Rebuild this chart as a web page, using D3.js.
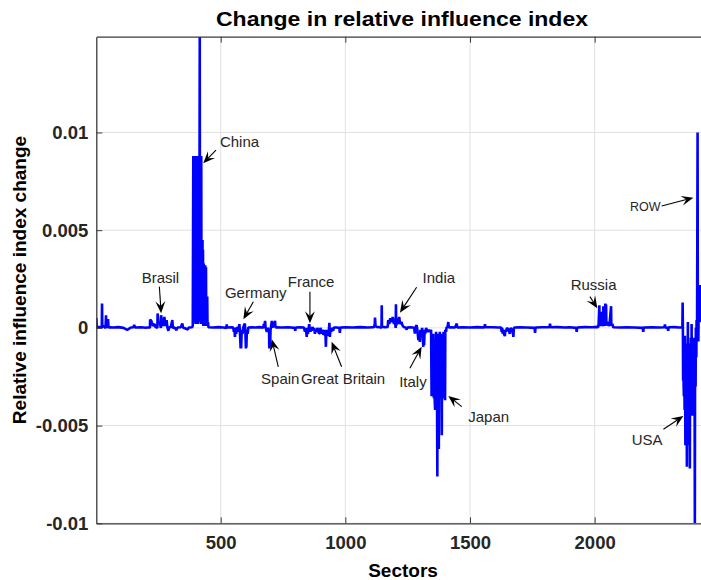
<!DOCTYPE html>
<html>
<head>
<meta charset="utf-8">
<script src="https://cdn.jsdelivr.net/npm/d3@7"></script>
<style>
  body { margin: 0; background: #fff; }
  text { font-family: "Liberation Sans", Arial, Helvetica, sans-serif; }
</style>
</head>
<body>
<div id="grafico"></div>
<script>
const WIDTH = 701;
const HEIGHT = 580;

// sector index (1..2464) and change in relative influence index
const sectorChange = [
  // AUS .. BGR
  [1, 0.0005], [3, 0.00005], [20, 0.00003], [23, 0.0], [24, 0.00125], [25, 0.0001], [30, 0.00008],
  [38, 0.0], [40, 0.00065], [41, 0.0001], [46, 0.0], [48, 0.00045], [50, 0.00002], [56, 0.00003],
  [70, 0.00002], [90, 0.00004], [110, 0.0], [125, -0.0001], [128, -0.00008], [140, 0.00002],
  [150, 0.00003], [153, 0.00015], [156, 0.00002], [180, 0.00003], [200, 0.00001], [212, 0.00003],
  // BRA, CAN, CHE
  [216, 0.0], [217, 0.00043], [222, 0.00035], [228, 0.0001], [235, 0.0002], [238, 0.00005],
  [246, 0.0], [247, 0.00074], [250, 0.00025], [255, 0.0003], [260, 0.0], [261, 0.00065],
  [265, 0.0002], [270, 0.0001], [274, 0.00056], [278, 0.0001], [283, 0.0004], [286, 0.00005],
  [290, -0.00015], [293, 0.00002], [300, 0.00005], [306, 0.0004], [308, 0.0], [315, 0.00002],
  [323, -0.00012], [326, 0.00002], [340, 0.00003], [346, 0.00022], [349, 0.00002],
  [368, -0.00008], [372, 0.00002], [385, 0.00003],
  // CHN
  [388, 0.0001], [390, 0.0088], [391, 0.0002], [392, 0.0087], [393, 0.0005], [395, 0.0088],
  [396, 0.0003], [398, 0.0086], [399, 0.001], [401, 0.0088], [402, 0.0002], [404, 0.0087],
  [405, 0.0006], [407, 0.0085], [408, 0.0002], [410, 0.0088], [411, 0.0004], [413, 0.0088],
  [414, 0.0003], [416, 0.0149], [417, 0.0005], [419, 0.0087], [420, 0.0002], [422, 0.0088],
  [423, 0.0003], [424, 0.0045], [425, 0.0002], [427, 0.0045], [428, 0.0003], [429, 0.004],
  [430, 0.0001], [432, 0.0033], [433, 0.0002], [435, 0.0032], [436, 0.0001], [438, 0.0032],
  [439, 0.0003], [441, 0.0031], [442, 0.0001], [444, 0.0016], [445, 0.0002], [446, 0.0016],
  [447, 0.0001], [449, 0.0003], [451, 0.00003],
  // CYP, CZE
  [470, 0.00002], [490, 0.00004], [510, 0.00002], [523, 0.0], [524, 0.00018], [526, 0.00002], [545, 0.00003],
  // DEU
  [550, 0.00002], [553, -0.0002], [555, 0.0], [557, -0.00046], [559, -0.0001], [562, -0.0003],
  [565, 0.00005], [568, -0.0002], [572, 0.0], [575, 0.00019], [577, -0.0002], [580, -0.00105],
  [581, -0.0001], [582, -0.00105], [584, -0.0002], [588, -0.0003], [590, 0.0], [594, 0.00015],
  [597, 0.00022], [599, -0.0002], [601, -0.00105], [602, -0.0001], [603, -0.001], [605, -0.0001],
  [608, -0.0003], [611, 0.00002],
  // DNK, ESP
  [625, 0.00003], [640, 0.00002], [655, 0.00004], [668, 0.00002],
  [671, 0.0], [673, 0.0002], [675, 0.00002], [678, 0.00036], [680, 0.00002], [685, -0.0002],
  [688, 0.0], [692, -0.0001], [694, -0.0002], [695, -0.00105], [696, -0.0003], [698, -0.00095],
  [700, -0.0001], [705, 0.00036], [707, 0.00002], [712, 0.0001], [718, 0.00036], [720, 0.00002],
  [725, 0.00003],
  // EST, FIN
  [745, 0.00002], [770, 0.00003], [797, 0.0], [799, -0.00015], [801, 0.00002], [820, 0.00003],
  // FRA
  [834, 0.00002], [838, -0.0002], [842, 0.0], [845, -0.00046], [847, -0.0001], [850, -0.0003],
  [853, 0.0], [855, 0.00019], [857, 0.0], [860, -0.0002], [863, 0.0], [865, -0.00015],
  [868, 0.00005], [872, -0.0001], [875, 0.0], [878, -0.0003], [880, -0.0001], [885, -0.0002],
  // GBR
  [888, 0.0], [893, -0.00025], [898, -0.00029], [900, 0.0], [905, -0.0003], [908, -0.0001],
  [912, -0.00035], [915, -0.0001], [918, -0.0004], [920, -0.0002], [922, -0.00097], [924, -0.0001],
  [928, -0.0004], [930, -0.0001], [933, -0.0003], [936, 0.00026], [938, -0.00046], [940, -0.0001],
  [944, -0.0002], [948, 0.0], [951, -0.00015], [954, 0.00002],
  // GRC, HRV, HUN
  [965, 0.00002], [976, 0.0], [978, -0.00026], [980, 0.00002], [1000, 0.00003], [1030, 0.00002],
  [1060, 0.00004], [1090, 0.00002], [1110, 0.00003],
  // IDN, IND, IRL
  [1115, 0.00003], [1118, 0.0002], [1119, 0.00053], [1121, 0.0001], [1125, 0.00005], [1140, 0.00003],
  [1145, 0.0], [1146, 0.00116], [1147, 0.0001], [1150, 0.00005], [1160, 0.00003], [1170, 0.00005],
  [1172, 0.0004], [1176, 0.0002], [1180, 0.0005], [1185, 0.0003], [1190, 0.00056], [1195, 0.0002],
  [1198, 0.0004], [1202, 0.0], [1203, 0.00121], [1204, 0.0001], [1208, 0.0005], [1212, 0.0002],
  [1216, 0.00056], [1220, 0.0002], [1225, 0.0003], [1230, 0.0001], [1234, 0.00005], [1240, 0.00002],
  [1244, 0.0], [1246, -0.0001], [1248, 0.00002], [1260, 0.00003], [1270, 0.00002],
  // ITA
  [1276, 0.0], [1279, -0.00029], [1281, 0.0], [1286, 0.00014], [1289, -0.0001], [1293, -0.00063],
  [1295, -0.0002], [1299, -0.00072], [1301, -0.0001], [1305, -0.0003], [1308, 0.0], [1313, -0.00097],
  [1314, -0.0002], [1316, -0.00088], [1318, -0.0001], [1320, -0.0003], [1324, 0.0], [1330, -0.0002],
  [1335, -0.0001], [1340, -0.0002],
  // JPN
  [1344, -0.0001], [1346, -0.0035], [1347, -0.0005], [1349, -0.0035], [1350, -0.001], [1352, -0.0034],
  [1353, -0.0003], [1355, -0.0036], [1356, -0.0008], [1358, -0.0035], [1360, -0.0042], [1361, -0.0006],
  [1363, -0.0041], [1364, -0.0002], [1366, -0.0036], [1367, -0.0005], [1369, -0.0076], [1370, -0.0004],
  [1372, -0.0061], [1373, -0.0003], [1375, -0.0062], [1376, -0.0009], [1378, -0.0036], [1379, -0.0002],
  [1381, -0.0035], [1382, -0.0004], [1384, -0.0036], [1385, -0.0006], [1387, -0.0055], [1388, -0.0003],
  [1390, -0.0036], [1391, -0.0005], [1393, -0.0034], [1394, -0.0002], [1396, -0.0036], [1397, -0.0004],
  [1400, -0.0037], [1401, -0.0001], [1404, -0.0002], [1406, 0.00002],
  // KOR .. LVA
  [1410, 0.00003], [1413, 0.0003], [1415, 0.00002], [1425, 0.00003], [1440, 0.00002], [1447, 0.00022],
  [1449, 0.00002], [1470, 0.00003], [1500, 0.00002], [1530, 0.00004], [1558, 0.00002], [1560, 0.00019],
  [1562, 0.00003], [1590, 0.00003], [1615, 0.00002],
  // MEX
  [1625, 0.00002], [1627, -0.0002], [1629, 0.0], [1631, -0.00029], [1633, -0.0001], [1636, -0.0003],
  [1640, -0.00042], [1642, -0.0001], [1645, -0.0002], [1648, 0.0], [1655, -0.0001], [1660, -0.0003],
  [1663, 0.0], [1668, -0.0001], [1672, -0.0002], [1674, -0.00046], [1676, 0.0], [1680, 0.00002],
  // MLT .. ROU
  [1700, 0.00003], [1730, 0.00002], [1759, 0.0], [1761, -0.00026], [1763, 0.00002], [1790, 0.00003],
  [1819, 0.00004], [1821, 0.00022], [1823, 0.00003], [1850, 0.00004], [1880, 0.00002], [1900, 0.00003],
  [1926, 0.0], [1928, -0.0002], [1930, 0.00002], [1960, 0.00004], [1990, 0.00003], [2010, 0.00005],
  // RUS
  [2014, 0.00003], [2016, 0.0002], [2019, 0.00116], [2020, 0.0001], [2023, 0.0003], [2026, 0.0001],
  [2029, 0.00082], [2030, 0.0001], [2033, 0.0002], [2035, 0.0011], [2036, 0.0001], [2040, 0.0003],
  [2043, 0.00125], [2044, 0.0001], [2046, 0.0012], [2047, 0.0002], [2052, 0.0003], [2056, 0.0001],
  [2060, 0.0002], [2066, 0.00111], [2067, 0.0001], [2071, 0.0002], [2075, 0.00003],
  // SVK .. TWN
  [2100, 0.00002], [2130, 0.00003], [2160, 0.00002], [2193, 0.0], [2195, -0.0002], [2197, 0.00002],
  [2230, 0.00003], [2260, 0.00002], [2280, 0.00003], [2282, 0.00018], [2284, 0.00002], [2293, 0.0],
  [2295, -0.00015], [2297, 0.00003], [2320, 0.00004], [2340, 0.00002], [2350, 0.00003],
  // USA
  [2352, 0.0], [2353, 0.0013], [2354, 0.0], [2355, -0.0027], [2356, -0.0004], [2357, -0.0029],
  [2358, -0.0035], [2359, -0.0008], [2360, -0.003], [2361, -0.0042], [2362, -0.0004], [2363, -0.0028],
  [2364, -0.006], [2365, -0.0015], [2366, -0.0031], [2367, -0.0035], [2368, -0.0008], [2369, -0.0029],
  [2370, -0.0071], [2371, -0.0012], [2372, -0.003], [2373, -0.0045], [2374, 0.0003], [2375, -0.0028],
  [2376, -0.0035], [2377, -0.0008], [2378, -0.003], [2379, -0.006], [2380, -0.0015], [2381, -0.0031],
  [2382, -0.0072], [2383, -0.0009], [2384, -0.0029], [2385, -0.0045], [2386, -0.0005], [2387, -0.0028],
  [2388, -0.0035], [2389, 0.0002], [2390, -0.0027], [2391, -0.004], [2392, -0.0008], [2393, -0.003],
  [2394, -0.0045], [2395, -0.0007], [2396, -0.0029], [2397, -0.0032], [2398, -0.0038], [2399, -0.0005],
  [2400, -0.0028], [2401, -0.0031], [2402, -0.01], [2403, -0.001], [2404, -0.0026], [2405, -0.003],
  [2406, 0.0], [2407, -0.0012], [2408, -0.0015],
  // ROW
  [2409, 0.0004], [2411, 0.0003], [2413, 0.01], [2414, 0.0001], [2416, -0.0007], [2417, 0.0005],
  [2419, 0.0021], [2420, 0.0003], [2422, 0.0022], [2423, 0.0004], [2426, 0.0015], [2430, 0.0003],
  [2440, 0.0002], [2464, 0.0001]
];

const xTickValues = [500, 1000, 1500, 2000];
const yTickValues = [-0.01, -0.005, 0, 0.005, 0.01];
const yTickLabels = ["-0.01", "-0.005", "0", "0.005", "0.01"];

// annotation text with arrow tail / tip, in data units
const notes = [
  {label: "China",         text: [497, 0.00953],   tail: [481, 0.0091],    tip: [430, 0.00842]},
  {label: "Brasil",        text: [183, 0.00259],   tail: [254, 0.00211],   tip: [261, 0.00075]},
  {label: "Germany",       text: [517, 0.0018],    tail: [631, 0.00134],   tip: [591, 0.00044]},
  {label: "France",        text: [769, 0.00236],   tail: [858, 0.00185],   tip: [858, 0.00024]},
  {label: "Spain",         text: [662, -0.00258],  tail: [731, -0.00199],  tip: [705, -0.00058]},
  {label: "Great Britain", text: [822, -0.00258],  tail: [985, -0.00199],  tip: [945, -0.00071]},
  {label: "India",         text: [1310, 0.00257],  tail: [1286, 0.00208],  tip: [1219, 0.00078]},
  {label: "Italy",         text: [1216, -0.00275], tail: [1259, -0.00207], tip: [1306, -0.00096]},
  {label: "Japan",         text: [1493, -0.00454], tail: [1467, -0.00403], tip: [1413, -0.00348]},
  {label: "Russia",        text: [1904, 0.0022],   tail: [1981, 0.0016],   tip: [2011, 0.001]},
  {label: "USA",           text: [2149, -0.00574], tail: [2276, -0.00519], tip: [2356, -0.00451]},
  {label: "ROW",           text: [2142, 0.0062],   tail: [2269, 0.00624],  tip: [2396, 0.00666], small: true}
];

const margin = {top: 36.7, left: 96.3, bottom: 56.7};
const plotW = 614;
const plotH = HEIGHT - margin.top - margin.bottom;

let svg = d3.select("#grafico")
    .append("svg")
    .attr("width", WIDTH)
    .attr("height", HEIGHT);

svg.append("rect").attr("width", WIDTH).attr("height", HEIGHT).attr("fill", "#fff");

let x = d3.scaleLinear().domain([1, 2464]).range([margin.left, margin.left + plotW]);
let y = d3.scaleLinear().domain([-0.01, 0.0149]).range([margin.top + plotH, margin.top]);

const axisColor = "#3a3a3a";

// grid
let grid = svg.append("g");
grid.selectAll(".vgrid").data(xTickValues).enter().append("line")
    .attr("x1", d => x(d)).attr("x2", d => x(d))
    .attr("y1", y.range()[1]).attr("y2", y.range()[0])
    .style("stroke", "#e1e1e1").style("stroke-width", 1);
grid.selectAll(".hgrid").data(yTickValues).enter().append("line")
    .attr("x1", x.range()[0]).attr("x2", x.range()[1])
    .attr("y1", d => y(d)).attr("y2", d => y(d))
    .style("stroke", "#e1e1e1").style("stroke-width", 1);

// data line
svg.append("clipPath").attr("id", "plotClip")
    .append("rect")
    .attr("x", x.range()[0]).attr("y", y.range()[1])
    .attr("width", plotW).attr("height", plotH);

let line = d3.line().x(d => x(d[0])).y(d => y(d[1]));

svg.append("path")
    .datum(sectorChange)
    .attr("clip-path", "url(#plotClip)")
    .attr("d", line)
    .style("fill", "none")
    .style("stroke", "#0000ff")
    .style("stroke-width", 2.6)
    .style("stroke-linejoin", "bevel");

// axes
let xAxis = svg.append("g")
    .attr("transform", "translate(0," + y.range()[0] + ")")
    .call(d3.axisBottom(x).tickValues(xTickValues).tickSizeInner(-6).tickSizeOuter(0).tickPadding(13)
        .tickFormat(d3.format("d")));
let xTop = svg.append("g")
    .attr("transform", "translate(0," + y.range()[1] + ")")
    .call(d3.axisTop(x).tickValues(xTickValues).tickSizeInner(-6).tickSizeOuter(0).tickFormat(""));
let yAxis = svg.append("g")
    .attr("transform", "translate(" + x.range()[0] + ",0)")
    .call(d3.axisLeft(y).tickValues(yTickValues).tickSizeInner(-6).tickSizeOuter(0).tickPadding(8)
        .tickFormat((d, i) => yTickLabels[i]));

[xAxis, xTop, yAxis].forEach(a => {
    a.select(".domain").style("stroke", axisColor).style("stroke-width", 1.3);
    a.selectAll(".tick line").style("stroke", axisColor).style("stroke-width", 1);
    a.selectAll(".tick text")
        .style("font-family", "'Liberation Sans', Arial, sans-serif")
        .style("font-size", "18.5px")
        .style("font-weight", "bold")
        .style("fill", "#262626");
});

// title and axis labels
svg.append("text")
    .attr("x", 402).attr("y", 26)
    .attr("text-anchor", "middle")
    .attr("textLength", 372)
    .attr("lengthAdjust", "spacingAndGlyphs")
    .style("font-size", "21px")
    .style("font-weight", "bold")
    .style("fill", "#000")
    .text("Change in relative influence index");

svg.append("text")
    .attr("x", 403).attr("y", 577)
    .attr("text-anchor", "middle")
    .style("font-size", "19px")
    .style("font-weight", "bold")
    .style("fill", "#000")
    .text("Sectors");

svg.append("text")
    .attr("transform", "translate(26,280) rotate(-90)")
    .attr("text-anchor", "middle")
    .style("font-size", "19px")
    .style("font-weight", "bold")
    .style("fill", "#000")
    .text("Relative influence index change");

// annotations
function arrowHead(tip, tail, len, wid) {
    let a = Math.atan2(tip[1] - tail[1], tip[0] - tail[0]);
    let ux = Math.cos(a), uy = Math.sin(a);
    let px = -uy, py = ux;
    let bx = tip[0] - ux * len, by = tip[1] - uy * len;
    let nx = tip[0] - ux * len * 0.6, ny = tip[1] - uy * len * 0.6;
    return {
        path: "M" + tip[0] + "," + tip[1] +
            "L" + (bx + px * wid / 2) + "," + (by + py * wid / 2) +
            "L" + nx + "," + ny +
            "L" + (bx - px * wid / 2) + "," + (by - py * wid / 2) + "Z",
        notch: [nx, ny]
    };
}

let ann = svg.append("g");
notes.forEach(n => {
    let tip = [x(n.tip[0]), y(n.tip[1])];
    let tail = [x(n.tail[0]), y(n.tail[1])];
    let head = arrowHead(tip, tail, 12, 10);
    ann.append("line")
        .attr("x1", tail[0]).attr("y1", tail[1])
        .attr("x2", head.notch[0]).attr("y2", head.notch[1])
        .style("stroke", "#000").style("stroke-width", 1.1);
    ann.append("path")
        .attr("d", head.path)
        .style("fill", "#000");
    ann.append("text")
        .attr("x", x(n.text[0])).attr("y", y(n.text[1]))
        .attr("dy", "0.35em")
        .style("font-size", n.small ? "12.5px" : "15px")
        .style("fill", "#262626")
        .text(n.label);
});
</script>
</body>
</html>
